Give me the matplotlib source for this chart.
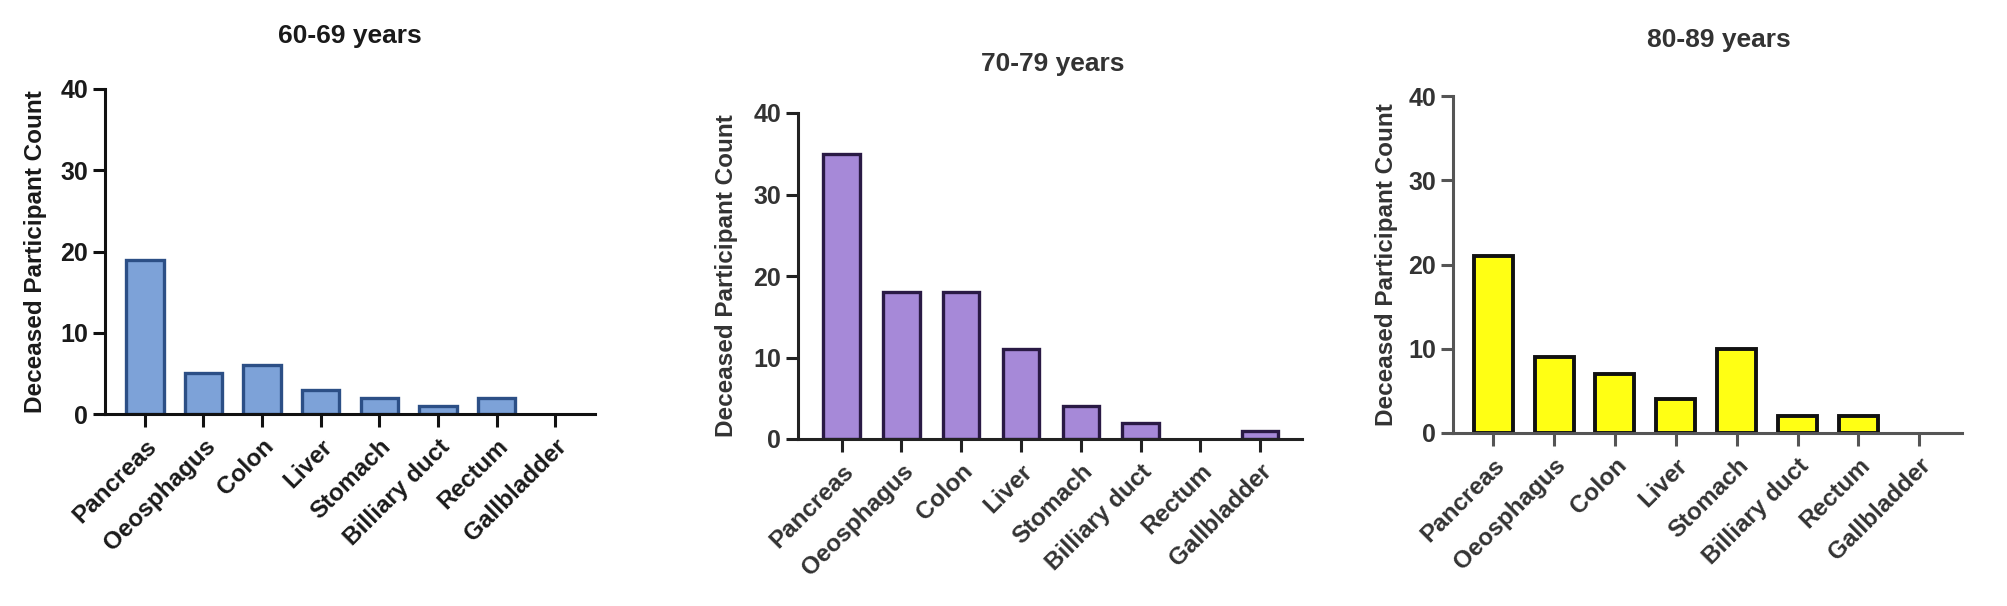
import matplotlib
matplotlib.use("Agg")
import matplotlib.pyplot as plt
import numpy as np

plt.rcParams['font.family'] = ['Liberation Sans', 'DejaVu Sans']
plt.rcParams['font.weight'] = 'bold'

sites = ["Pancreas", "Oeosphagus", "Colon", "Liver", "Stomach",
         "Billiary duct", "Rectum", "Gallbladder"]

counts_60_69 = [19, 5, 6, 3, 2, 1, 2, 0]
counts_70_79 = [35, 18, 18, 11, 4, 2, 0, 1]
counts_80_89 = [21, 9, 7, 4, 10, 2, 2, 0]

titles = ["60-69 years", "70-79 years", "80-89 years"]
y_ticks = [0, 10, 20, 30, 40]
y_label = "Deceased Participant Count"

W, H = 2008, 606
fig = plt.figure(figsize=(W / 100, H / 100), dpi=100)

# one dict per panel: pixel box of the axes, title spot, styling
panels = [
    dict(data=counts_60_69, box=(105, 595, 89, 414), xlim=(-0.68, 7.68),
         title_xy=(350, 36), ylab_x=36, face="#7da2d8", edge="#2c4f86",
         spine="#111111", text="#1a1a1a", width=0.64, elw=2.4),
    dict(data=counts_70_79, box=(798, 1302, 113, 439), xlim=(-0.73, 7.70),
         title_xy=(1053, 64), ylab_x=727, face="#a689d8", edge="#2a1a45",
         spine="#222222", text="#333333", width=0.61, elw=2.4),
    dict(data=counts_80_89, box=(1453, 1962, 96, 433), xlim=(-0.66, 7.70),
         title_xy=(1719, 40), ylab_x=1386, face="#ffff14", edge="#111111",
         spine="#555555", text="#333333", width=0.64, elw=2.8),
]

for p, title in zip(panels, titles):
    x0, x1, top, bot = p["box"]
    ax = fig.add_axes([x0 / W, 1 - bot / H, (x1 - x0) / W, (bot - top) / H])
    x = np.arange(len(sites))
    # empty categories get no outline, so nothing sits on the axis
    lw = [p["elw"] if v > 0 else 0 for v in p["data"]]
    ax.bar(x, p["data"], width=p["width"], color=p["face"],
           edgecolor=p["edge"], linewidth=lw, zorder=2)
    ax.set_xlim(*p["xlim"])
    ax.set_ylim(0, 40)
    ax.set_yticks(y_ticks)
    ax.set_xticks(x)
    ax.set_xticklabels(sites, rotation=45, ha="right", rotation_mode="anchor",
                       fontsize=17.5, fontweight="bold", color=p["text"])
    ax.tick_params(axis="y", labelsize=18, length=9, width=2.2, pad=3,
                   colors=p["spine"], labelcolor=p["text"])
    ax.tick_params(axis="x", length=9, width=2.2, pad=6, colors=p["spine"],
                   labelcolor=p["text"])
    for lab in ax.get_yticklabels():
        lab.set_fontweight("bold")
    for side in ["top", "right"]:
        ax.spines[side].set_visible(False)
    for side in ["left", "bottom"]:
        ax.spines[side].set_linewidth(2.2)
        ax.spines[side].set_color(p["spine"])
        ax.spines[side].set_zorder(3)

    fig.text(p["title_xy"][0] / W, 1 - p["title_xy"][1] / H, title,
             ha="center", va="center", fontsize=19, fontweight="bold",
             color=p["text"])
    fig.text(p["ylab_x"] / W, 1 - ((top + bot) / 2) / H, y_label,
             rotation=90, ha="center", va="center", fontsize=17.5,
             fontweight="bold", color=p["text"])

fig.savefig("out.png", dpi=100, facecolor="white")
